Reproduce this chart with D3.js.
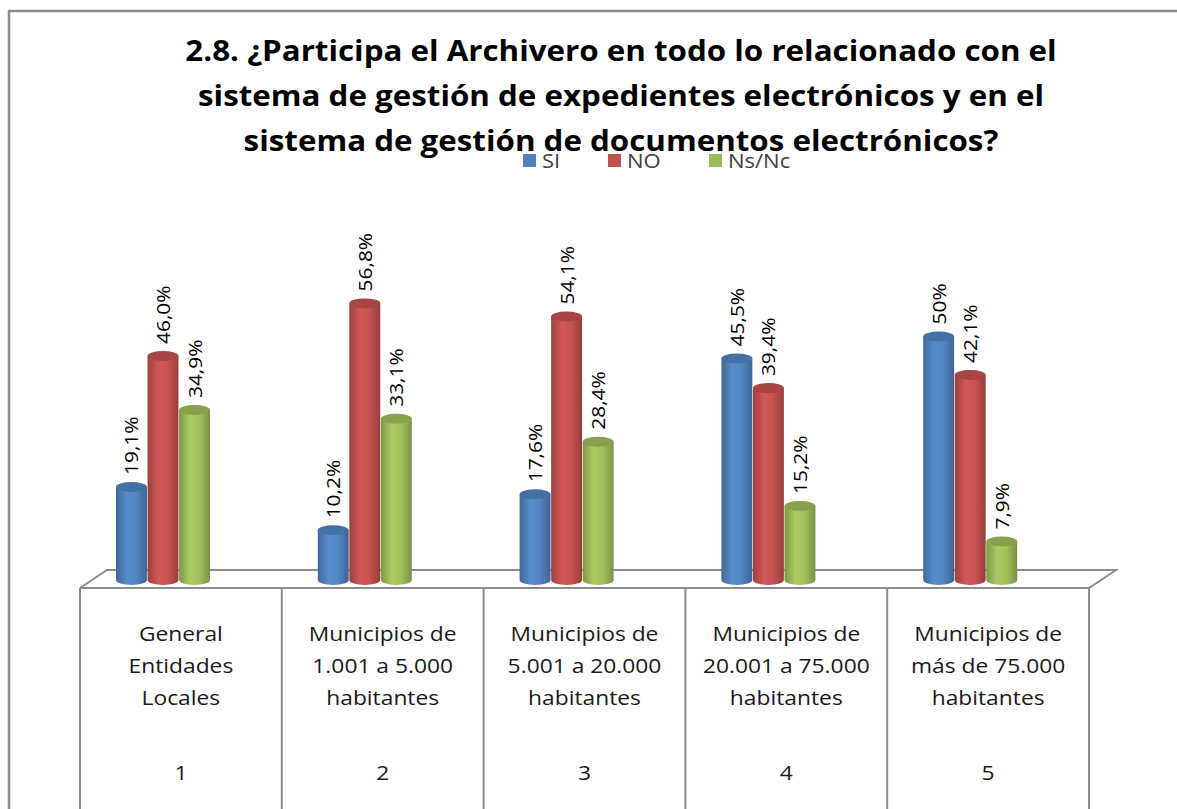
<!DOCTYPE html>
<html>
<head>
<meta charset="utf-8">
<script src="https://cdn.jsdelivr.net/npm/d3@7"></script>
<style>
  body { margin: 0; background: #fff; }
  svg { display: block; }
  text { font-family: "Open Sans", Lato, sans-serif; }
</style>
</head>
<body>
<div id="chart"></div>
<script>
(function () {
    'use strict';

    // data
    var categories = [
        ['General', 'Entidades', 'Locales'],
        ['Municipios de', '1.001 a 5.000', 'habitantes'],
        ['Municipios de', '5.001 a 20.000', 'habitantes'],
        ['Municipios de', '20.001 a 75.000', 'habitantes'],
        ['Municipios de', 'más de 75.000', 'habitantes']
    ];
    var categoryNumbers = ['1', '2', '3', '4', '5'];
    var seriesNames = ['SI', 'NO', 'Ns/Nc'];
    var siValues = [19.1, 10.2, 17.6, 45.5, 50];
    var noValues = [46.0, 56.8, 54.1, 39.4, 42.1];
    var nsncValues = [34.9, 33.1, 28.4, 15.2, 7.9];
    var valueLabels = [
        ['19,1%', '10,2%', '17,6%', '45,5%', '50%'],
        ['46,0%', '56,8%', '54,1%', '39,4%', '42,1%'],
        ['34,9%', '33,1%', '28,4%', '15,2%', '7,9%']
    ];
    var titleLines = [
        '2.8. ¿Participa  el Archivero en todo lo relacionado con el',
        'sistema de gestión de expedientes electrónicos y en el',
        'sistema de gestión de documentos electrónicos?'
    ];

    var width = 1177, height = 809;
    var colors = ['#4F81BD', '#C0504D', '#9BBB59'];
    var series = [siValues, noValues, nsncValues];
    // the original picture is a bit stretched sideways
    var stretch = 1.1;

    var svg = d3.select('#chart').append('svg')
        .attr('width', width)
        .attr('height', height);

    // gradients for the cylinders
    var defs = svg.append('defs');
    colors.forEach(function (c, i) {
        var g = defs.append('linearGradient')
            .attr('id', 'grad' + i)
            .attr('x1', '0%').attr('x2', '100%').attr('y1', '0%').attr('y2', '0%');
        var base = d3.color(c);
        g.append('stop').attr('offset', '0%').attr('stop-color', base.darker(0.6));
        g.append('stop').attr('offset', '35%').attr('stop-color', base.brighter(0.25));
        g.append('stop').attr('offset', '65%').attr('stop-color', base.brighter(0.1));
        g.append('stop').attr('offset', '100%').attr('stop-color', base.darker(0.7));
    });

    // chart border
    svg.append('rect')
        .attr('x', 9).attr('y', 11)
        .attr('width', 1200).attr('height', 900)
        .attr('fill', '#fff')
        .attr('stroke', '#8a8a8a')
        .attr('stroke-width', 2.5);

    // title
    svg.append('g').selectAll('text')
        .data(titleLines)
        .enter().append('text')
        .attr('transform', function (d, i) {
            return 'translate(621,' + (61 + i * 45) + ') scale(1.08,1)';
        })
        .attr('text-anchor', 'middle')
        .attr('font-size', 29)
        .attr('font-weight', 'bold')
        .attr('fill', '#000')
        .text(function (d) { return d; });

    // scales
    var x = d3.scaleBand()
        .domain(d3.range(categories.length))
        .range([80, 1089]);
    var xs = d3.scaleBand()
        .domain(d3.range(seriesNames.length))
        .range([36, 130])
        .paddingInner(0.02);
    var baseY = 580;
    var y = d3.scaleLinear()
        .domain([0, 60])
        .range([baseY, baseY - 60 * 4.87]);

    // floor
    var floorFront = 588, floorBack = 570, depth = 27;
    var floor = svg.append('g')
        .attr('fill', 'none')
        .attr('stroke', '#8c8c8c')
        .attr('stroke-width', 2);
    floor.append('path')
        .attr('d', d3.line()([
            [x.range()[0], floorFront],
            [x.range()[0] + depth, floorBack],
            [x.range()[1] + depth, floorBack],
            [x.range()[1], floorFront],
            [x.range()[0], floorFront]
        ]));

    // table lines under the floor
    var cuts = categories.map(function (d, i) { return x(i); }).concat([x.range()[1]]);
    floor.selectAll('line.cut')
        .data(cuts)
        .enter().append('line')
        .attr('class', 'cut')
        .attr('x1', function (d) { return d; })
        .attr('x2', function (d) { return d; })
        .attr('y1', floorFront)
        .attr('y2', height + 5);

    // cylinders
    var bw = xs.bandwidth();
    var ry = 5;
    var bars = [];
    series.forEach(function (vals, s) {
        vals.forEach(function (v, c) {
            bars.push({ s: s, c: c, v: v, label: valueLabels[s][c] });
        });
    });

    var cyl = svg.append('g').selectAll('g')
        .data(bars)
        .enter().append('g')
        .attr('transform', function (d) {
            return 'translate(' + (x(d.c) + xs(d.s)) + ',0)';
        });

    cyl.append('path')
        .attr('d', function (d) {
            var top = y(d.v);
            return 'M0,' + top +
                'L0,' + baseY +
                'A' + (bw / 2) + ',' + ry + ' 0 0 0 ' + bw + ',' + baseY +
                'L' + bw + ',' + top + 'Z';
        })
        .attr('fill', function (d) { return 'url(#grad' + d.s + ')'; });

    cyl.append('ellipse')
        .attr('cx', bw / 2)
        .attr('cy', function (d) { return y(d.v); })
        .attr('rx', bw / 2)
        .attr('ry', ry)
        .attr('fill', function (d) { return d3.color(colors[d.s]).darker(0.4); });

    // value labels
    cyl.append('text')
        .attr('transform', function (d) {
            return 'translate(' + (bw / 2 + 7) + ',' + (y(d.v) - ry - 7) + ') rotate(-90) scale(' + stretch + ',1)';
        })
        .attr('font-size', 19)
        .attr('fill', '#000')
        .text(function (d) { return d.label; });

    // legend
    var legendX = [523, 608, 709];
    var legend = svg.append('g').selectAll('g')
        .data(seriesNames)
        .enter().append('g')
        .attr('transform', function (d, i) { return 'translate(' + legendX[i] + ',154)'; });
    legend.append('rect')
        .attr('width', 13).attr('height', 13)
        .attr('fill', function (d, i) { return colors[i]; });
    legend.append('text')
        .attr('transform', 'translate(19,14) scale(' + stretch + ',1)')
        .attr('font-size', 20)
        .attr('fill', '#404040')
        .text(function (d) { return d; });

    // category labels in the table
    var labels = svg.append('g').selectAll('g')
        .data(categories)
        .enter().append('g')
        .attr('transform', function (d, i) {
            return 'translate(' + (x(i) + x.bandwidth() / 2) + ',0)';
        });
    labels.selectAll('text')
        .data(function (d) { return d; })
        .enter().append('text')
        .attr('transform', function (d, i) {
            return 'translate(0,' + (641 + i * 32) + ') scale(1.14,1)';
        })
        .attr('text-anchor', 'middle')
        .attr('font-size', 20)
        .attr('fill', '#1a1a1a')
        .text(function (d) { return d; });
    labels.append('text')
        .attr('transform', 'translate(0,780) scale(1.14,1)')
        .attr('text-anchor', 'middle')
        .attr('font-size', 20)
        .attr('fill', '#1a1a1a')
        .text(function (d, i) { return categoryNumbers[i]; });
})();
</script>
</body>
</html>
